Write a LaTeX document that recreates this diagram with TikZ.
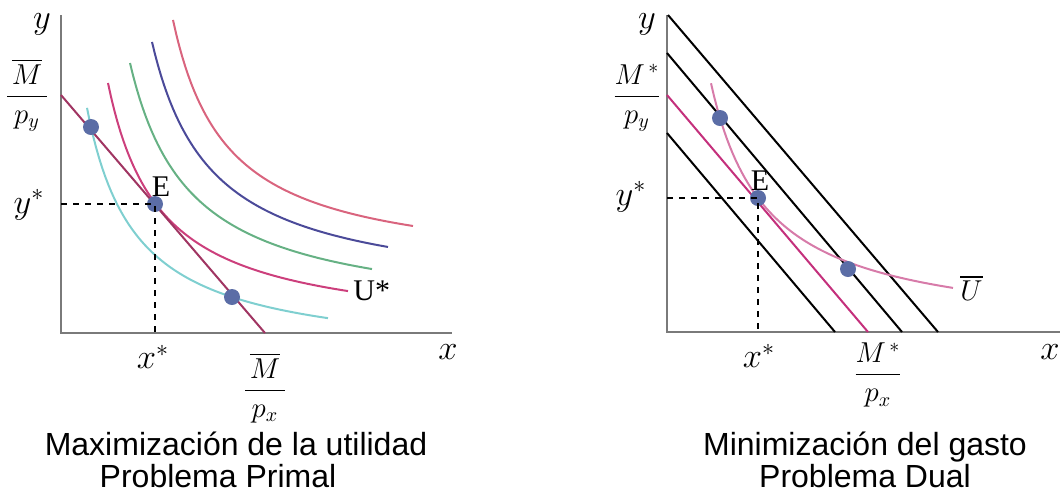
\documentclass[tikz,border=0pt]{standalone}
\usepackage{fontspec}
\usepackage{amsmath}
\setmainfont{Liberation Sans}
\newfontfamily\serifrm{Liberation Serif}
\usetikzlibrary{calc}

\definecolor{axisgray}{HTML}{7A7A7A}
\definecolor{dotblue}{HTML}{5B6DA6}
\definecolor{budgetrose}{HTML}{A03562}
\definecolor{ucyan}{HTML}{7FCFD0}
\definecolor{upink}{HTML}{CC3F7C}
\definecolor{ugreen}{HTML}{66B184}
\definecolor{unavy}{HTML}{4B4A99}
\definecolor{ured}{HTML}{D9647E}
\definecolor{dualpink}{HTML}{C4307C}
\definecolor{ubar}{HTML}{D77BA9}

\begin{document}
\begin{tikzpicture}[x=0.5pt,y=-0.5pt,
 axis/.style={draw=axisgray,line width=1.4pt},
 curve/.style={line width=1pt,samples=80},
 budget/.style={line width=1pt},
 guide/.style={dashed,line width=0.7pt},
 dot/.style={circle,fill=dotblue,inner sep=0pt,minimum size=8pt},
 lbl/.style={font=\fontsize{14}{16}\selectfont,inner sep=0pt},
 biglbl/.style={font=\fontsize{17}{19}\selectfont,inner sep=0pt},
 serlbl/.style={font=\fontsize{15}{17}\selectfont\serifrm,inner sep=0pt},
 captxt/.style={font=\fontsize{16}{18}\selectfont,inner sep=0pt,anchor=base}]
\useasboundingbox (0,0) rectangle (1060,495);

% Problema primal
\coordinate (O1) at (61,333);
\draw[axis] (61,15) -- (O1) -- (452,333);
\draw[curve,ucyan] plot[domain=87:328] (\x,{360.8-12368/(\x-38.1)});
\draw[curve,upink] plot[domain=108:348] (\x,{336.3-13221/(\x-55.8)});
\draw[curve,ugreen] plot[domain=130:372] (\x,{320.2-15456/(\x-69.9)});
\draw[curve,unavy] plot[domain=152:388] (\x,{298.9-15365/(\x-92.2)});
\draw[curve,ured] plot[domain=173:413] (\x,{272.5-13688/(\x-118.8)});
\coordinate (b1) at (61,95);
\coordinate (b2) at (265,333);
\draw[budget,budgetrose] (b1) -- (b2);
\node[dot] (p1) at (91,127) {};
\node[dot] (E1) at (155,204) {};
\node[dot] (p2) at (232,297) {};
\draw[guide] (O1 |- E1) -- (E1.center) -- (O1 -| E1);
\node[biglbl] (ylab1) at (42,24) {$y$};
\node[biglbl] (xlab1) at (448,352) {$x$};
\node[lbl] (mpy) at (27,95) {$\dfrac{\,\overline{M}\,}{\,p_y\,}$};
\node[biglbl] (ystar1) at (29,205) {$y^{*}$};
\node[biglbl] (xstar1) at (153,357) {$x^{*}$};
\node[lbl] (mpx) at (265,388) {$\dfrac{\,\overline{M}\,}{\,p_x\,}$};
\node[serlbl] (lblE1) at (161,187) {E};
\node[serlbl,anchor=west] (ustar) at (353,291) {U*};
\node[captxt] (cap1a) at (236,455) {Maximización de la utilidad};
\node[captxt] (cap1b) at (218,487) {Problema Primal};

% Problema dual
\coordinate (O2) at (667,332);
\draw[axis] (667,15) -- (O2) -- (1060,332);
\draw[budget] (668,15) -- (938,332);
\draw[budget] (667,53) -- (902,332);
\draw[budget] (667,133) -- (835,332);
\draw[budget,dualpink] (667,95) -- (868,332);
\draw[curve,ubar] plot[domain=711:953] (\x,{335.5-14200/(\x-654.7)});
\node[dot] (q1) at (720,118) {};
\node[dot] (E2) at (758,198) {};
\node[dot] (q2) at (848,269) {};
\draw[guide] (O2 |- E2) -- (E2.center) -- (O2 -| E2);
\node[biglbl] (ylab2) at (647,24) {$y$};
\node[biglbl] (xlab2) at (1050,352) {$x$};
\node[lbl] (mspy) at (637,98) {$\dfrac{M^{\,*}}{p_y}$};
\node[biglbl] (ystar2) at (631,197) {$y^{*}$};
\node[biglbl] (xstar2) at (759,356) {$x^{*}$};
\node[lbl] (mspx) at (878,375) {$\dfrac{M^{\,*}}{p_x}$};
\node[serlbl] (lblE2) at (760,181) {E};
\node[lbl,anchor=west] (ubarlab) at (960,288) {$\overline{U}$};
\node[captxt] (cap2a) at (865,455) {Minimización del gasto};
\node[captxt] (cap2b) at (865,487) {Problema Dual};
\end{tikzpicture}
\end{document}
